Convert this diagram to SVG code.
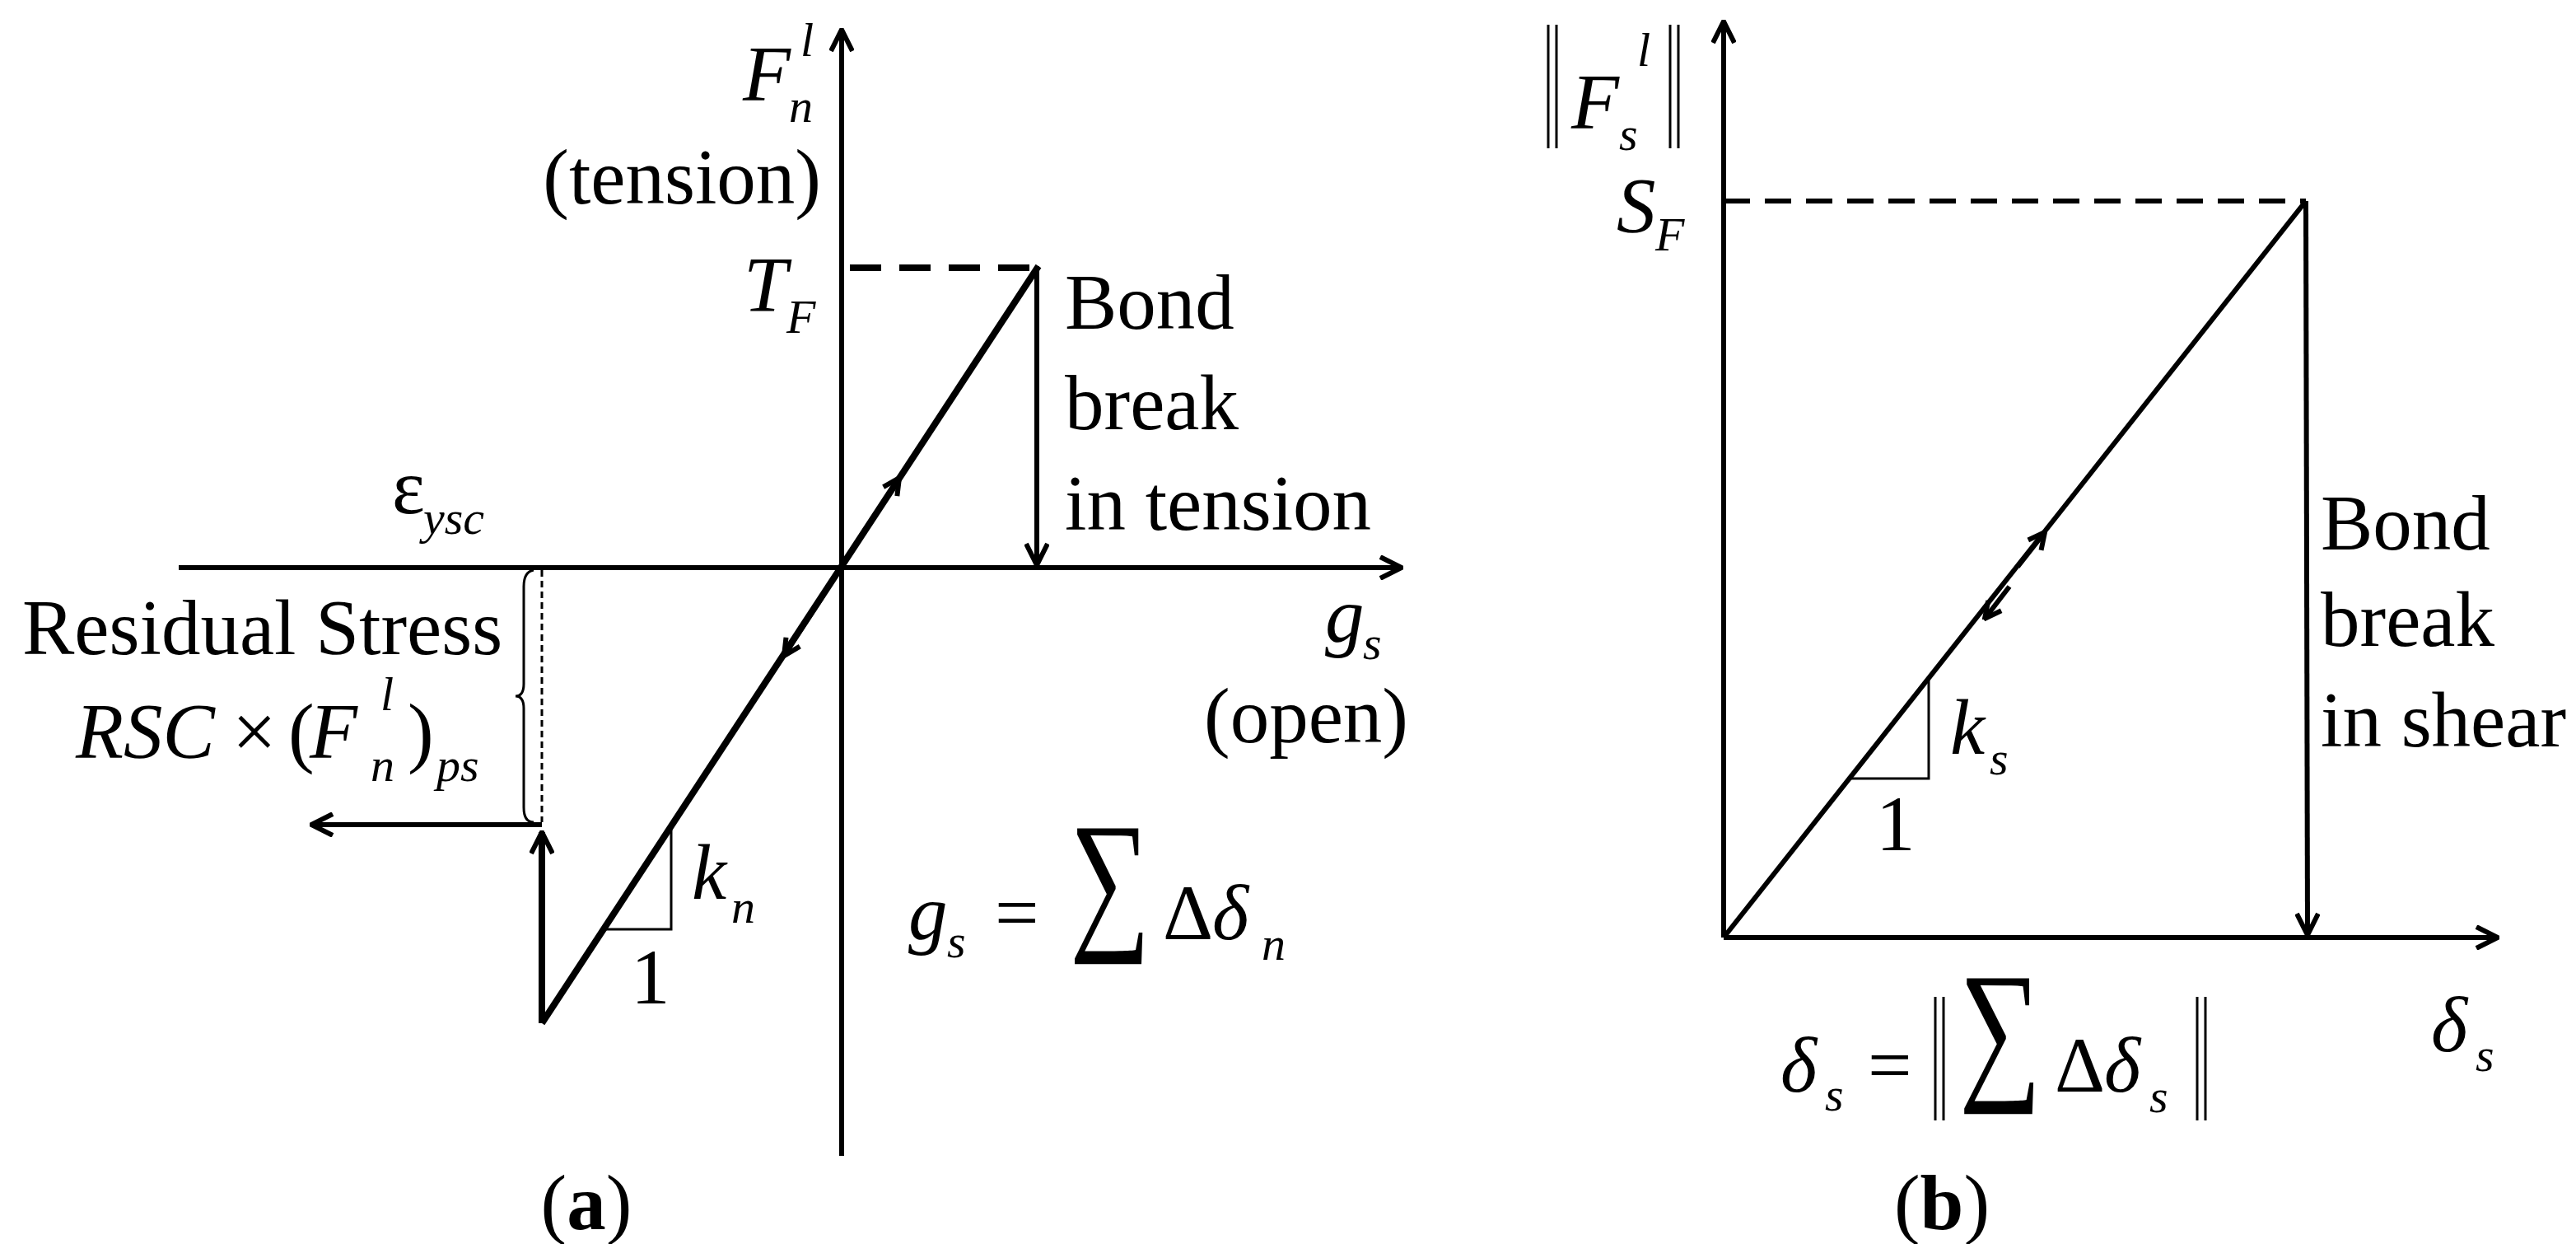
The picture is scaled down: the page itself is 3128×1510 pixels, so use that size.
<svg xmlns="http://www.w3.org/2000/svg" width="3128" height="1510" viewBox="0 0 3128 1510">
<defs>
<marker id="ah" viewBox="-30 -15 32 30" markerWidth="32" markerHeight="30" refX="0" refY="0" orient="auto" markerUnits="userSpaceOnUse">
<polyline points="-26,-13 0,0 -26,13" fill="none" stroke="#000" stroke-width="6"/>
</marker>
<marker id="ahs" viewBox="-30 -15 32 30" markerWidth="32" markerHeight="30" refX="0" refY="0" orient="auto" markerUnits="userSpaceOnUse">
<polyline points="-20,-10 0,0 -20,10" fill="none" stroke="#000" stroke-width="6"/>
</marker>
</defs>
<style>
text{font-family:"Liberation Serif","Times New Roman",serif;font-size:95px;fill:#000}
.i{font-style:italic}
.sub{font-size:58px;font-style:italic}
.sig{font-size:190px}
.ln{stroke:#000;fill:none;stroke-width:6}
.th{stroke:#000;fill:none;stroke-width:8}
.tn{stroke:#000;fill:none;stroke-width:3}
</style>
<rect width="3128" height="1510" fill="#fff"/>
<g id="connectors">
<line class="ln" x1="1022" y1="1403" x2="1022" y2="36" marker-end="url(#ah)"/>
<line class="ln" x1="217" y1="689" x2="1702" y2="689" marker-end="url(#ah)"/>
<line class="th" x1="1032" y1="325" x2="1261" y2="325" stroke-dasharray="38,22"/>
<line class="th" x1="658" y1="1242" x2="1261" y2="323"/>
<line class="ln" x1="1259" y1="323" x2="1259" y2="686" marker-end="url(#ah)"/>
<line class="ln" x1="1040" y1="659" x2="1092" y2="580" marker-end="url(#ahs)"/>
<line class="ln" x1="1000" y1="722" x2="952" y2="796" marker-end="url(#ahs)"/>
<line class="th" x1="658" y1="1242" x2="658" y2="1010" marker-end="url(#ah)"/>
<line class="ln" x1="658" y1="1001" x2="378" y2="1001" marker-end="url(#ah)"/>
<line class="tn" x1="658" y1="692" x2="658" y2="998" stroke-dasharray="8,5"/>
<path class="tn" d="M648,692 Q636,694 636,712 L636,830 Q636,845 626,845 Q636,845 636,860 L636,980 Q636,998 648,998"/>
<polyline class="tn" points="733,1128 815,1128 815,1003"/>
<line class="ln" x1="2093" y1="1138" x2="2093" y2="26" marker-end="url(#ah)"/>
<line class="ln" x1="2093" y1="1138" x2="3033" y2="1138" marker-end="url(#ah)"/>
<line class="ln" x1="2093" y1="244" x2="2800" y2="244" stroke-dasharray="32,18"/>
<line class="ln" x1="2093" y1="1138" x2="2800" y2="244"/>
<line class="ln" x1="2800" y1="244" x2="2802" y2="1135" marker-end="url(#ah)"/>
<line class="ln" x1="2450" y1="688" x2="2483" y2="646" marker-end="url(#ahs)"/>
<line class="ln" x1="2440" y1="712" x2="2410" y2="751" marker-end="url(#ahs)"/>
<polyline class="tn" points="2246,945 2342,945 2342,823"/>
</g>
<g id="labels-a">
<text x="902" y="122" class="i">F</text><text x="972" y="68" class="sub">l</text><text x="958" y="148" class="sub">n</text>
<text x="997" y="247" text-anchor="end">(tension)</text>
<text x="903" y="378" class="i" font-size="98">T</text><text x="955" y="404" class="sub">F</text>
<text x="1293" y="399">Bond</text>
<text x="1293" y="521">break</text>
<text x="1293" y="643">in tension</text>
<text x="476" y="623">ε</text><text x="514" y="648" class="sub">ysc</text>
<text x="27" y="794">Residual  Stress</text>
<text x="92" y="920" class="i">RSC</text>
<text x="282" y="920">×</text>
<text x="350" y="920">(</text>
<text x="376" y="920" class="i">F</text>
<text x="462" y="862" class="sub">l</text><text x="450" y="948" class="sub">n</text>
<text x="495" y="920">)</text><text x="530" y="948" class="sub">ps</text>
<text x="840" y="1091" class="i">k</text><text x="888" y="1120" class="sub">n</text>
<text x="766" y="1218">1</text>
<text x="1609" y="779" class="i">g</text><text x="1655" y="800" class="sub">s</text>
<text x="1462" y="901">(open)</text>
<text x="1103" y="1140" class="i">g</text><text x="1150" y="1162" class="sub">s</text>
<text x="1208" y="1140">=</text>
<text x="1299" y="1130" class="sig" textLength="98" lengthAdjust="spacingAndGlyphs">∑</text>
<text x="1412" y="1140">Δ</text><text x="1472" y="1140" class="i">δ</text><text x="1532" y="1165" class="sub">n</text>
<text x="712" y="1492" text-anchor="middle">(<tspan font-weight="bold">a</tspan>)</text>
</g>
<g id="labels-b">
<line class="tn" x1="1880" y1="30" x2="1880" y2="180"/><line class="tn" x1="1890" y1="30" x2="1890" y2="180"/>
<text x="1908" y="156" class="i">F</text><text x="1966" y="182" class="sub">s</text><text x="1988" y="80" class="sub">l</text>
<line class="tn" x1="2028" y1="30" x2="2028" y2="180"/><line class="tn" x1="2038" y1="30" x2="2038" y2="180"/>
<text x="1963" y="282" class="i">S</text><text x="2010" y="304" class="sub">F</text>
<text x="2818" y="667">Bond</text>
<text x="2818" y="784">break</text>
<text x="2818" y="906">in shear</text>
<text x="2368" y="915" class="i">k</text><text x="2416" y="940" class="sub">s</text>
<text x="2278" y="1032">1</text>
<text x="2952" y="1276" class="i">δ</text><text x="3006" y="1300" class="sub">s</text>
<text x="2162" y="1325" class="i">δ</text><text x="2216" y="1348" class="sub">s</text>
<text x="2268" y="1325">=</text>
<line class="tn" x1="2350" y1="1210" x2="2350" y2="1360"/><line class="tn" x1="2360" y1="1210" x2="2360" y2="1360"/>
<text x="2379" y="1312" class="sig" textLength="100" lengthAdjust="spacingAndGlyphs">∑</text>
<text x="2495" y="1325">Δ</text><text x="2555" y="1325" class="i">δ</text><text x="2610" y="1350" class="sub">s</text>
<line class="tn" x1="2668" y1="1210" x2="2668" y2="1360"/><line class="tn" x1="2678" y1="1210" x2="2678" y2="1360"/>
<text x="2358" y="1492" text-anchor="middle">(<tspan font-weight="bold">b</tspan>)</text>
</g>
</svg>
